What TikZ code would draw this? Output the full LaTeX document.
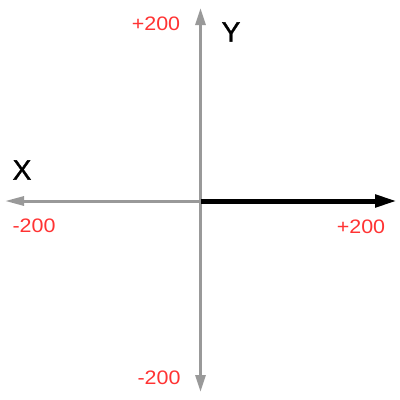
\documentclass[tikz,border=0pt]{standalone}
\usepackage{fontspec}
\setmainfont{Liberation Sans}
\newfontfamily\tickfont[FakeStretch=1.1]{Liberation Sans}
\newfontfamily\axfont[FakeBold=1.2]{Liberation Sans}
\usetikzlibrary{arrows.meta}
\definecolor{caxis}{RGB}{153, 153, 153}
\definecolor{cred}{RGB}{255, 51, 51}
\tikzset{
  gaxis/.style={draw=caxis, line width=3pt},
  baxis/.style={draw=black, line width=5pt},
  tick/.style={font=\tickfont\fontsize{19.5}{21}\selectfont, text=cred, inner sep=0pt},
  axlab/.style={font=\axfont\fontsize{28}{30}\selectfont, text=black, inner sep=0pt},
}
\begin{document}
\begin{tikzpicture}[x=1pt, y=-1pt]
\useasboundingbox (0,0) rectangle (400,400);

% ---------- axes ----------
\coordinate (O) at (200.5,201);
\coordinate (xl) at (5,201);
\coordinate (xr) at (397,201);
\coordinate (yt) at (200.5,8);
\coordinate (yb) at (200.5,392);

\draw[gaxis, -{Triangle[length=19pt, width=9pt]}] (O) -- (xl);
\draw[gaxis, {Triangle[length=17pt, width=10pt]}-{Triangle[length=17pt, width=10pt]}] (yb) -- (yt);
\draw[baxis, -{Triangle[length=22pt, width=12pt]}] (O) -- (xr);

% ---------- labels ----------
\node[axlab] (xname) at (22,170) {X};
\node[axlab] (yname) at (231,32) {Y};
\node[tick] (ytop) at (156,24) {+200};
\node[tick] (ybot) at (159,378) {-200};
\node[tick] (xleft) at (34,226) {-200};
\node[tick] (xright) at (361,227) {+200};

\end{tikzpicture}
\end{document}
